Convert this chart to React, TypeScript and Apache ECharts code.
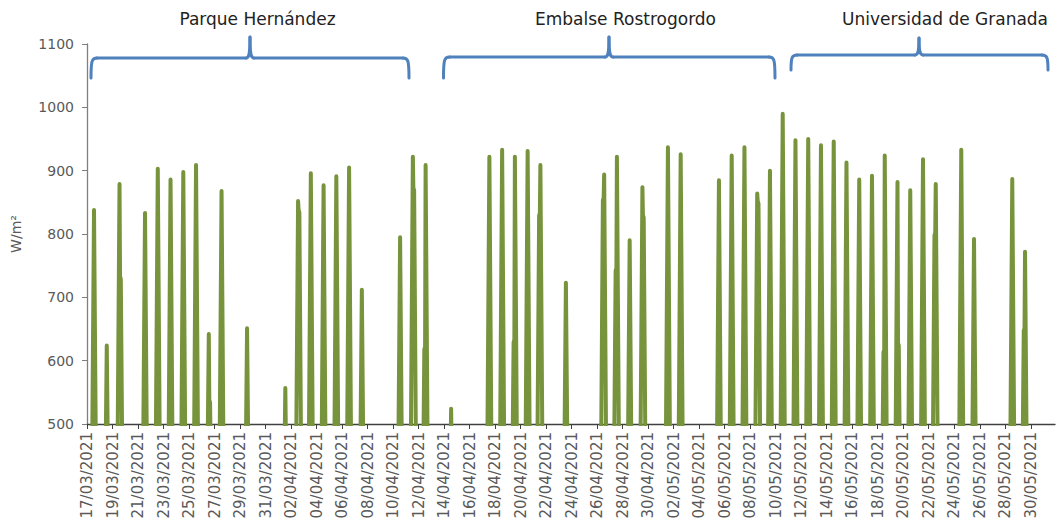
import React, { useEffect, useRef } from "react";
import * as echarts from "echarts";

// Daily peak irradiance (W/m²), one value per day starting 17/03/2021; null = never above 500
const startDate = [2021, 2, 17];
const dailyPeaks: (number | null)[] = [
  838, 624, 879, null, 833, 903, 886, 898, 909, 642, // 17/03 - 26/03
  868, null, 651, null, null, 557, 852, 896, 877, 891, // 27/03 - 05/04
  905, 712, null, null, 795, 922, 909, null, 524, null, // 06/04 - 15/04
  null, 922, 933, 922, 931, 909, null, 723, null, null, // 16/04 - 25/04
  894, 922, 790, 874, null, 937, 926, null, null, 885, // 26/04 - 05/05
  924, 937, 864, 900, 990, 948, 950, 940, 946, 913, // 06/05 - 15/05
  886, 892, 924, 882, 869, 918, 879, null, 933, 792, // 16/05 - 25/05
  null, null, 887, 772, null, // 26/05 - 30/05
];
// Secondary (cloud) levels: [day index, value, morning/afternoon]
const shoulders: [number, number, "am" | "pm"][] = [
  [2, 733, "pm"],
  [9, 538, "pm"],
  [16, 838, "pm"],
  [25, 873, "pm"],
  [26, 622, "am"],
  [33, 633, "am"],
  [35, 833, "am"],
  [40, 857, "am"],
  [41, 746, "am"],
  [43, 830, "pm"],
  [52, 852, "pm"],
  [62, 617, "am"],
  [63, 628, "pm"],
  [66, 802, "am"],
  [73, 651, "am"],
];
const sites = ["Parque Hernández", "Embalse Rostrogordo", "Universidad de Granada"];
const yTicks = { min: 500, max: 1100, step: 100 };

const NOON = 0.55;
const HALF = 0.32;

function buildData(): [number, number][] {
  const out: [number, number][] = [];
  dailyPeaks.forEach((p, d) => {
    if (p == null) return;
    const t = d + NOON;
    const sh = shoulders.find((s) => s[0] === d);
    out.push([t - HALF - (sh && sh[2] === "am" ? 0.08 : 0), 0]);
    if (sh && sh[2] === "am") {
      out.push([t - 0.1, sh[1] - 4]);
      out.push([t - 0.04, sh[1]]);
    }
    out.push([t, p]);
    if (sh && sh[2] === "pm") {
      out.push([t + 0.04, sh[1]]);
      out.push([t + 0.1, sh[1] - 4]);
    }
    out.push([t + HALF + (sh && sh[2] === "pm" ? 0.08 : 0), 0]);
  });
  return out;
}

function fmtDate(v: number): string {
  if (Math.abs(v - Math.round(v)) > 1e-6 || v > 74.5) return "";
  const dt = new Date(Date.UTC(startDate[0], startDate[1], startDate[2] + Math.round(v)));
  const dd = String(dt.getUTCDate()).padStart(2, "0");
  const mm = String(dt.getUTCMonth() + 1).padStart(2, "0");
  return `${dd}/${mm}/${dt.getUTCFullYear()}`;
}

function brace(x1: number, x2: number, xc: number, yBar: number, yEnd: number, yTip: number) {
  const style = { stroke: "#4F81BD", lineWidth: 3, fill: "none", lineCap: "round", lineJoin: "round" };
  const r = 6;
  return [
    { type: "bezierCurve", shape: { x1, y1: yEnd, cpx1: x1, cpy1: yBar + 2, cpx2: x1 + 1, cpy2: yBar, x2: x1 + r, y2: yBar }, style },
    { type: "line", shape: { x1: x1 + r, y1: yBar, x2: xc - 4, y2: yBar }, style },
    { type: "bezierCurve", shape: { x1: xc - 4, y1: yBar, cpx1: xc - 1, cpy1: yBar, cpx2: xc, cpy2: yBar - 3, x2: xc, y2: yTip }, style },
    { type: "bezierCurve", shape: { x1: xc, y1: yTip, cpx1: xc, cpy1: yBar - 3, cpx2: xc + 1, cpy2: yBar, x2: xc + 4, y2: yBar }, style },
    { type: "line", shape: { x1: xc + 4, y1: yBar, x2: x2 - r, y2: yBar }, style },
    { type: "bezierCurve", shape: { x1: x2 - r, y1: yBar, cpx1: x2 - 1, cpy1: yBar, cpx2: x2, cpy2: yBar + 2, x2, y2: yEnd }, style },
  ];
}

export default function App() {
  const ref = useRef<HTMLDivElement>(null);
  useEffect(() => {
    if (!ref.current) return;
    const chart = echarts.init(ref.current, undefined, { renderer: "svg" });
    const font = "DejaVu Sans";
    const titleStyle = (text: string, x: number) => ({
      type: "text",
      x,
      y: 19,
      style: { text, fill: "#222222", font: `17px "${font}"`, textAlign: "center", textVerticalAlign: "middle" },
    });
    chart.setOption({
      animation: false,
      backgroundColor: "#ffffff",
      grid: { left: 87, right: 4, top: 44, bottom: 104, containLabel: false },
      xAxis: {
        type: "value",
        min: 0,
        max: 75.9,
        interval: 2,
        axisLine: { show: true, onZero: false, lineStyle: { color: "#404040", width: 1.3 } },
        axisTick: { show: true, inside: false, length: 5, lineStyle: { color: "#404040" } },
        splitLine: { show: false },
        axisLabel: {
          rotate: 90,
          margin: 8,
          color: "#595959",
          fontFamily: font,
          fontSize: 15,
          formatter: fmtDate,
          showMaxLabel: false,
        },
      },
      yAxis: {
        type: "value",
        min: yTicks.min,
        max: yTicks.max,
        interval: yTicks.step,
        name: "W/m²",
        nameLocation: "middle",
        nameGap: 64,
        nameTextStyle: { color: "#595959", fontFamily: font, fontSize: 14 },
        axisLine: { show: true, lineStyle: { color: "#7f7f7f", width: 1.3 } },
        axisTick: { show: true, inside: false, length: 5, lineStyle: { color: "#7f7f7f" } },
        splitLine: { show: false },
        axisLabel: {
          margin: 13,
          color: "#595959",
          fontFamily: font,
          fontSize: 14,
          formatter: (v: number) => String(v),
        },
      },
      series: [
        {
          type: "line",
          data: buildData(),
          showSymbol: false,
          symbol: "none",
          clip: true,
          lineStyle: { color: "#77933C", width: 4, cap: "round", join: "round" },
        },
      ],
      graphic: [
        ...brace(91, 409, 250, 58, 78, 37),
        ...brace(443.5, 775, 609, 57, 78, 37),
        ...brace(791, 1048, 919, 55, 70, 38),
        titleStyle(sites[0], 257.5),
        titleStyle(sites[1], 625.5),
        titleStyle(sites[2], 945),
      ],
    });
    return () => chart.dispose();
  }, []);
  return <div ref={ref} style={{ position: "fixed", left: 0, top: 0, width: 1059, height: 528 }} />;
}
